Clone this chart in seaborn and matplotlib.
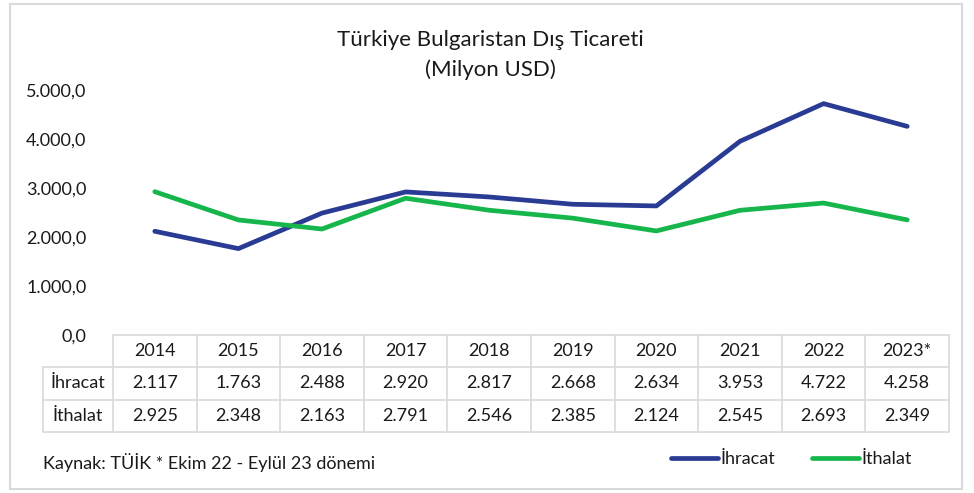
import numpy as np
import matplotlib.pyplot as plt
import seaborn as sns
import pandas as pd
from matplotlib.ticker import FuncFormatter
from matplotlib.patches import Rectangle

# Data (Milyon USD)
years = ["2014", "2015", "2016", "2017", "2018", "2019", "2020", "2021", "2022", "2023*"]
ihracat = [2117, 1763, 2488, 2920, 2817, 2668, 2634, 3953, 4722, 4258]
ithalat = [2925, 2348, 2163, 2791, 2546, 2385, 2124, 2545, 2693, 2349]
series_names = ["İhracat", "İthalat"]
colors = ["#2A3B93", "#16B64C"]

sns.set_theme(style="white")
plt.rcParams['font.family'] = ['Lato', 'DejaVu Sans']
text_color = "#1a1a1a"
grid_color = "#d9d9d9"

df = pd.DataFrame({
    "idx": list(range(len(years))) * 2,
    "value": ihracat + ithalat,
    "series": [series_names[0]] * len(years) + [series_names[1]] * len(years),
})

W, H = 974, 493
fig = plt.figure(figsize=(W / 100, H / 100), dpi=100)

# outer chart border
fig.patches.append(Rectangle((10 / W, 4 / H), (962 - 10) / W, (489 - 4) / H,
                             transform=fig.transFigure, fill=False,
                             edgecolor=grid_color, linewidth=1.5))

# main line axes
x0, x1 = 113, 949
y_top, y_zero = 90, 335
ax = fig.add_axes([x0 / W, 1 - y_zero / H, (x1 - x0) / W, (y_zero - y_top) / H])
sns.lineplot(data=df, x="idx", y="value", hue="series", palette=colors,
             linewidth=3.4, ax=ax, legend=False)
ax.set_xlim(-0.5, len(years) - 0.5)
ax.set_ylim(0, 5000)
ax.set_yticks(np.arange(0, 5001, 1000))
ax.yaxis.set_major_formatter(FuncFormatter(
    lambda v, p: f"{v:,.1f}".replace(",", "X").replace(".", ",").replace("X", ".")))
ax.tick_params(axis="y", length=0, pad=19, labelsize=13, labelcolor=text_color)
ax.set_xticks([])
ax.set_xlabel("")
ax.set_ylabel("")
for s in ax.spines.values():
    s.set_visible(False)
ax.patch.set_alpha(0)

# data table under the chart
lbl_w = (x0 - 43) / ((x1 - x0) / len(years))
tx = fig.add_axes([43 / W, 1 - 432 / H, (x1 - 43) / W, (432 - y_zero) / H])
tx.set_xlim(-lbl_w, len(years))
tx.set_ylim(3, 0)
tx.axis("off")
lw = 1.2
tx.plot([0, len(years)], [0, 0], color=grid_color, lw=lw, clip_on=False)
for r in [1, 2, 3]:
    tx.plot([-lbl_w, len(years)], [r, r], color=grid_color, lw=lw, clip_on=False)
tx.plot([-lbl_w, -lbl_w], [1, 3], color=grid_color, lw=lw, clip_on=False)
for c in range(len(years) + 1):
    tx.plot([c, c], [0, 3], color=grid_color, lw=lw, clip_on=False)
for i, y in enumerate(years):
    tx.text(i + 0.5, 0.5, y, ha="center", va="center", fontsize=13, color=text_color)
for r, (name, vals) in enumerate(zip(series_names, [ihracat, ithalat])):
    tx.text(-lbl_w / 2, r + 1.5, name, ha="center", va="center", fontsize=13, color=text_color)
    for i, v in enumerate(vals):
        tx.text(i + 0.5, r + 1.5, f"{v:,}".replace(",", "."), ha="center", va="center",
                fontsize=13, color=text_color)

# title
fig.text(490 / W, 1 - 40 / H, "Türkiye Bulgaristan Dış Ticareti", ha="center", va="center",
         fontsize=16, color=text_color)
fig.text(490 / W, 1 - 70 / H, "(Milyon USD)", ha="center", va="center",
         fontsize=16, color=text_color)

# source note
fig.text(43 / W, 1 - 462 / H, "Kaynak: TÜİK * Ekim 22 - Eylül 23 dönemi", ha="left",
         va="center", fontsize=13, color=text_color)

# legend
handles = [plt.Line2D([], [], color=c, lw=3.4) for c in colors]
fig.legend(handles, series_names, loc="center left", bbox_to_anchor=(655 / W, 1 - 459 / H),
           ncol=2, frameon=False, fontsize=13, handlelength=2.6, handletextpad=0.15,
           columnspacing=2.0, labelcolor=text_color)

fig.savefig("out.png", dpi=100)
